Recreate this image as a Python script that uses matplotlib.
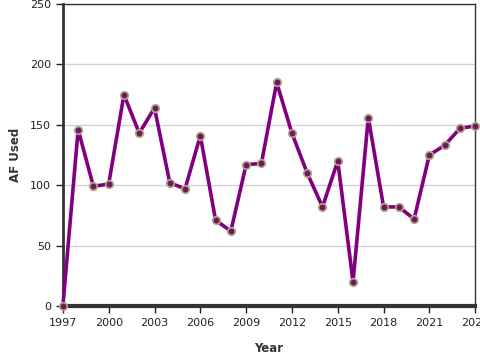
#!/usr/bin/env python3

import matplotlib
matplotlib.use("Agg")
import matplotlib.pyplot as plt

years = list(range(1997, 2025))
af_used = [0, 146, 99, 101, 175, 143, 164, 102, 97, 141,
           71, 62, 117, 118, 185, 143, 110, 82, 120, 20,
           156, 82, 82, 72, 125, 133, 147, 149]
xticks = list(range(1997, 2025, 3))
yticks = [0, 50, 100, 150, 200, 250]


def main():
    fig = plt.figure(figsize=(4.8, 3.6), dpi=100)
    ax = fig.add_axes([0.131, 0.15, 0.859, 0.839])

    ax.plot(years, af_used, color='#800080', linewidth=2.6, zorder=3,
            marker='o', markersize=5.5, markerfacecolor='#6e1a5e',
            markeredgecolor='#b8a88a', markeredgewidth=1.2, clip_on=False)

    format_plot(fig, ax)


def format_plot(fig, ax):
    ax.set_xlim(1997, 2024)
    ax.set_ylim(0, 250)
    ax.set_xticks(xticks)
    ax.set_yticks(yticks)
    ax.tick_params(labelsize=8, colors='#222222', direction='out', length=5, width=1)
    ax.set_xlabel("Year", fontsize=8.5, fontweight='bold', color='#333333', labelpad=10)
    ax.set_ylabel("AF Used", fontsize=8.5, fontweight='bold', color='#333333', labelpad=6)
    ax.yaxis.grid(True, color='#d3d3d3', linewidth=1)
    ax.set_axisbelow(True)
    for side in ['top', 'right']:
        ax.spines[side].set_linewidth(1)
        ax.spines[side].set_color('#333333')
    ax.spines['left'].set_linewidth(2)
    ax.spines['left'].set_color('#333333')
    ax.spines['bottom'].set_linewidth(3)
    ax.spines['bottom'].set_color('#333333')
    for lbl in ax.get_xticklabels() + ax.get_yticklabels():
        lbl.set_clip_on(False)
    fig.savefig("out.png", dpi=100)


if __name__ == "__main__":
    main()
